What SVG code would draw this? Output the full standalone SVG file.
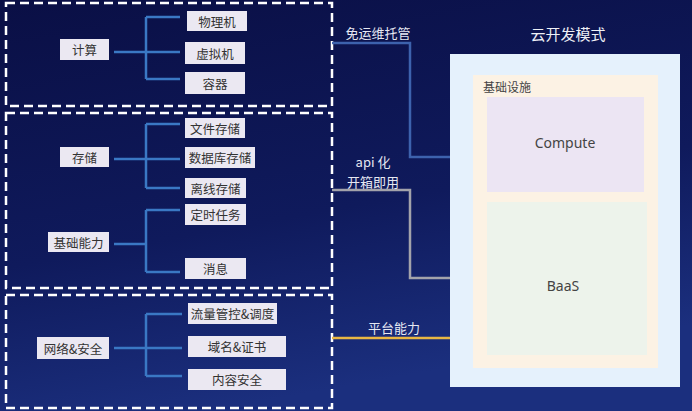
<svg xmlns="http://www.w3.org/2000/svg" width="692" height="411" viewBox="0 0 692 411">
<defs>
<linearGradient id="bg" x1="0" y1="0" x2="0.3" y2="1">
<stop offset="0" stop-color="#0a0f45"/>
<stop offset="0.6" stop-color="#0f1a5c"/>
<stop offset="1" stop-color="#1b2f7e"/>
</linearGradient>
<style>
.dash{fill:none;stroke:#ffffff;stroke-width:2.5;stroke-dasharray:9 5}
.node rect{fill:#ebe8f2}
.node text{font-family:"Noto Sans CJK SC","Noto Sans",sans-serif;font-size:12.5px;fill:#333;text-anchor:middle;dominant-baseline:central}
.tree{fill:none;stroke:#3a78c4;stroke-width:2.5}
.lbl{font-family:"Noto Sans CJK SC","Noto Sans",sans-serif;font-size:13px;fill:#e6e8f2;text-anchor:middle;dominant-baseline:central}
.in{font-family:"Noto Sans","Noto Sans CJK SC",sans-serif;fill:#444;dominant-baseline:central}
</style>
</defs>
<rect width="692" height="411" fill="url(#bg)"/>
<g id="groups">
<rect class="dash" x="6" y="3" width="326" height="103"/>
<rect class="dash" x="6" y="113" width="326" height="175"/>
<rect class="dash" x="6" y="295" width="326" height="113"/>
</g>
<g id="connectors">
<path class="tree" d="M114 52H146M146 17V79M146 17H180M146 52H180M146 79H180"/>
<path class="tree" d="M114 159H146M146 124V188M146 124H180M146 159H180M146 188H180"/>
<path class="tree" d="M114 244H146M146 210V272M146 210H180M146 272H180" stroke-width="2.5"/>
<path class="tree" d="M114 348H146M146 314V376M146 314H182M146 348H182M146 376H182"/>
<path d="M332 43H410V157H487" fill="none" stroke="#3d62ad" stroke-width="2.5"/>
<path d="M332 190H410V278H487" fill="none" stroke="#a3a3ab" stroke-width="2.5"/>
<path d="M332 338H487" fill="none" stroke="#e9b744" stroke-width="2.5"/>
<text class="lbl" x="378" y="32" font-size="13.5">免运维托管</text>
<text class="lbl" x="373" y="161">api 化</text>
<text class="lbl" x="373" y="181">开箱即用</text>
<text class="lbl" x="394" y="327" font-size="14">平台能力</text>
</g>
<g id="n-jisuan" class="node"><rect x="60" y="39" width="49" height="21"/><text x="84.5" y="49.5">计算</text></g>
<g id="n-wuliji" class="node"><rect x="187" y="11" width="60" height="20"/><text x="217" y="21">物理机</text></g>
<g id="n-xuniji" class="node"><rect x="185" y="42" width="60" height="22"/><text x="215" y="53">虚拟机</text></g>
<g id="n-rongqi" class="node"><rect x="185" y="72" width="60" height="22"/><text x="215" y="83">容器</text></g>
<g id="n-cunchu" class="node"><rect x="60" y="147" width="49" height="20"/><text x="84.5" y="157">存储</text></g>
<g id="n-wenjian" class="node"><rect x="185" y="118" width="60" height="20"/><text x="215" y="128">文件存储</text></g>
<g id="n-shujuku" class="node"><rect x="185" y="147" width="70" height="21"/><text x="220" y="157.5">数据库存储</text></g>
<g id="n-lixian" class="node"><rect x="185" y="178" width="61" height="20"/><text x="215.5" y="188">离线存储</text></g>
<g id="n-jichu" class="node"><rect x="48" y="232" width="61" height="20"/><text x="78.5" y="242">基础能力</text></g>
<g id="n-dingshi" class="node"><rect x="185" y="204" width="61" height="21"/><text x="215.5" y="214.5">定时任务</text></g>
<g id="n-xiaoxi" class="node"><rect x="185" y="258" width="61" height="21"/><text x="215.5" y="268.5">消息</text></g>
<g id="n-wangluo" class="node"><rect x="37" y="337" width="72" height="22"/><text x="73" y="348">网络&amp;安全</text></g>
<g id="n-liuliang" class="node"><rect x="188" y="303" width="89" height="21"/><text x="232.5" y="313.5">流量管控&amp;调度</text></g>
<g id="n-yuming" class="node"><rect x="188" y="336" width="98" height="21"/><text x="237" y="346.5">域名&amp;证书</text></g>
<g id="n-neirong" class="node"><rect x="188" y="369" width="98" height="21"/><text x="237" y="379.5">内容安全</text></g>
<g id="cloud">
<text x="568" y="33" font-family="'Noto Sans CJK SC',sans-serif" font-size="15" fill="#eef0f6" text-anchor="middle" dominant-baseline="central">云开发模式</text>
<rect x="450" y="54" width="230" height="333" fill="#e5f1fc"/>
<rect x="473" y="75" width="185" height="293" fill="#fcf2e4"/>
<text x="483" y="86" font-family="'Noto Sans CJK SC',sans-serif" font-size="12" fill="#444" dominant-baseline="central">基础设施</text>
</g>
<g id="n-compute"><rect x="487" y="97" width="157" height="95" fill="#ece5f3"/><text class="in" x="565" y="142" font-size="14" text-anchor="middle">Compute</text></g>
<g id="n-baas"><rect x="487" y="202" width="160" height="153" fill="#edf3eb"/><text class="in" x="563" y="285" font-size="14" text-anchor="middle">BaaS</text></g>
</svg>
